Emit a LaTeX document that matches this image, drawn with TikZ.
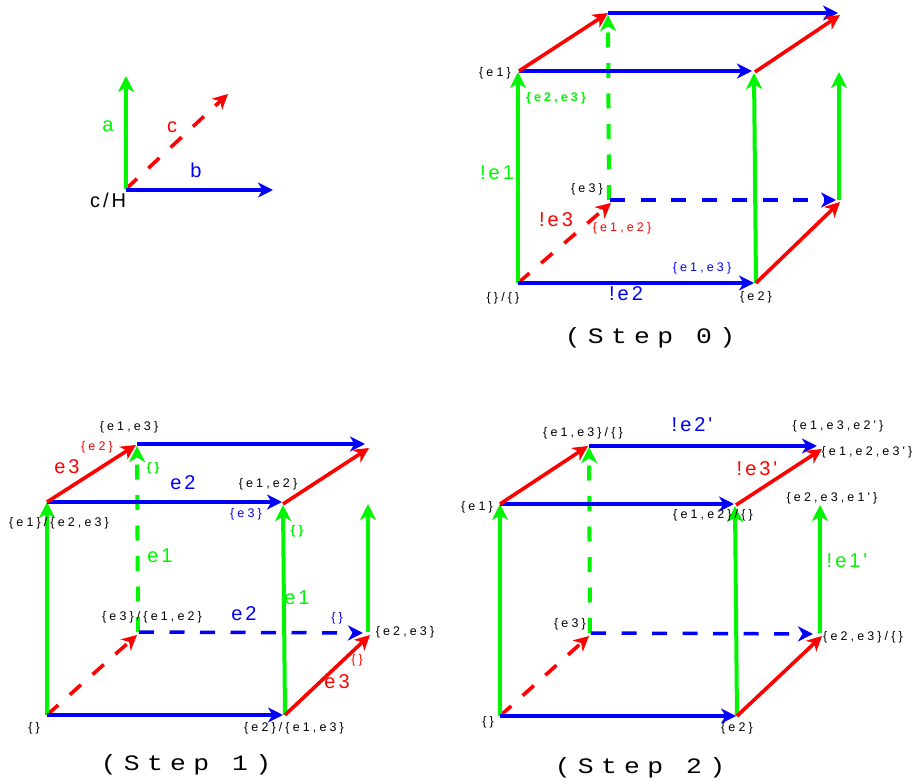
\documentclass[tikz,border=0pt]{standalone}
\usepackage{fontspec}
\usetikzlibrary{arrows.meta}
\newfontfamily\lblfont[LetterSpace=25]{Liberation Sans}
\newfontfamily\bigfont[LetterSpace=15]{Liberation Sans}
\newfontfamily\capfont[FakeStretch=1.2,LetterSpace=33]{Liberation Mono}
\definecolor{gr}{RGB}{0,245,0}
\definecolor{bl}{RGB}{0,0,250}
\definecolor{rd}{RGB}{255,0,0}
\tikzset{
  x=1pt,y=-1pt,
  tip/.style={-{Stealth[length=16pt,width=16pt,inset=4.5pt]}},
  tipsmall/.style={-{Stealth[length=15pt,width=15pt,inset=4.5pt]}},
  gedge/.style={tip,draw=gr,line width=4pt},
  bedge/.style={tipsmall,draw=bl,line width=3.5pt},
  redge/.style={tipsmall,draw=rd,line width=3.6pt},
  dash15/.style={dash pattern=on 15pt off 15.5pt},
  lab/.style={inner sep=0pt,outer sep=0pt,font=\lblfont\fontsize{12.5}{14}\selectfont},
  labbold/.style={inner sep=0pt,outer sep=0pt,font=\lblfont\bfseries\fontsize{12.5}{14}\selectfont},
  big/.style={inner sep=0pt,outer sep=0pt,font=\bigfont\fontsize{20}{24}\selectfont},
  stepcap/.style={inner sep=0pt,outer sep=0pt,font=\capfont\fontsize{22}{26}\selectfont},
}
\begin{document}
\begin{tikzpicture}
\useasboundingbox (0,0) rectangle (916,783);

% legend
\coordinate (lo) at (126,189);
\coordinate (lob) at (126,190);
\coordinate (la) at (126,76);
\coordinate (lb) at (273,190);
\coordinate (lc) at (228,94);
\draw[redge,dash15] (lo) -- (lc);
\draw[gedge] (lo) -- (la);
\draw[bedge] (lob) -- (lb);
\node[big,text=gr] (ta) at (108,126) {a};
\node[big,text=rd] (tc) at (172,127) {c};
\node[big,text=bl] (tb) at (196,170) {b};
\node[big] (tch) at (108,200) {c/H};

% step 0
\coordinate (a0) at (518,283);
\coordinate (a1) at (756,283);
\coordinate (a2) at (518,72);
\coordinate (a3) at (754,72);
\coordinate (a4) at (609,200);
\coordinate (a5) at (839,200);
\coordinate (a6) at (608,13);
\coordinate (a7) at (838,13);
\coordinate (a1b) at (754,283);
\coordinate (a2b) at (752,71);
\coordinate (a2c) at (519,71);
\coordinate (a3b) at (754,73);
\coordinate (a4b) at (611,203);
\coordinate (a4c) at (610,200);
\coordinate (a5b) at (836,200);
\coordinate (a5c) at (840,202);
\coordinate (a5d) at (839,72);
\coordinate (a6b) at (608,15);
\coordinate (a7b) at (840,15);
\coordinate (a3c) at (755,72);
\draw[gedge,dash15] (a4) -- (a6b);
\draw[bedge,dash15] (a4c) -- (a5b);
\draw[redge,dash15] (a0) -- (a4b);
\draw[gedge] (a0) -- (a2);
\draw[gedge] (a1) -- (a3b);
\draw[gedge] (a5) -- (a5d);
\draw[bedge] (a0) -- (a1b);
\draw[bedge] (a2c) -- (a2b);
\draw[bedge] (a6) -- (a7);
\draw[redge] (a1) -- (a5c);
\draw[redge] (a2c) -- (a6);
\draw[redge] (a3c) -- (a7b);
\node[lab] (s0a) at (495,73) {\{e1\}};
\node[labbold,text=gr] (s0b) at (556,98) {\{e2,e3\}};
\node[big,text=gr] (s0c) at (497,173) {!e1};
\node[lab] (s0d) at (587,189) {\{e3\}};
\node[big,text=rd] (s0e) at (556,220) {!e3};
\node[lab,text=rd] (s0f) at (622,228) {\{e1,e2\}};
\node[lab,text=bl] (s0g) at (702,268) {\{e1,e3\}};
\node[big,text=bl] (s0h) at (626,294) {!e2};
\node[lab] (s0i) at (756,297) {\{e2\}};
\node[lab] (s0j) at (503,298) {\{\}/\{\}};
\node[stepcap] (s0k) at (650,338) {(Step 0)};

% step 1
\coordinate (b0) at (47,715);
\coordinate (b1) at (285,715);
\coordinate (b2) at (47,502);
\coordinate (b3) at (283,504);
\coordinate (b4) at (138,632);
\coordinate (b5) at (368,632);
\coordinate (b6) at (137,444);
\coordinate (b7) at (365,444);
\coordinate (b1b) at (283,715);
\coordinate (b3b) at (282,502);
\coordinate (b3c) at (283,505);
\coordinate (b4b) at (137,635);
\coordinate (b4c) at (139,632);
\coordinate (b5b) at (363,633);
\coordinate (b5c) at (370,635);
\coordinate (b5d) at (368,504);
\coordinate (b6b) at (137,446);
\coordinate (b7b) at (369,448);
\coordinate (b6c) at (136,445);
\draw[gedge,dash15] (b4) -- (b6b);
\draw[bedge,dash15] (b4c) -- (b5b);
\draw[redge,dash15] (b0) -- (b4b);
\draw[gedge] (b0) -- (b2);
\draw[gedge] (b1) -- (b3c);
\draw[gedge] (b5) -- (b5d);
\draw[bedge] (b0) -- (b1b);
\draw[bedge] (b2) -- (b3b);
\draw[bedge] (b6) -- (b7);
\draw[redge] (b1) -- (b5c);
\draw[redge] (b2) -- (b6c);
\draw[redge] (b3) -- (b7b);
\node[lab] (s1a) at (129,427) {\{e1,e3\}};
\node[lab,text=rd] (s1b) at (97,447) {\{e2\}};
\node[big,text=rd] (s1c) at (67,467) {e3};
\node[labbold,text=gr] (s1d) at (153,468) {\{\}};
\node[big,text=bl] (s1e) at (183,483) {e2};
\node[lab] (s1f) at (268,484) {\{e1,e2\}};
\node[lab,text=bl] (s1g) at (246,514) {\{e3\}};
\node[lab] (s1h) at (59,523) {\{e1\}/\{e2,e3\}};
\node[labbold,text=gr] (s1i) at (297,531) {\{\}};
\node[big,text=gr] (s1j) at (160,556) {e1};
\node[big,text=gr] (s1k) at (297,598) {e1};
\node[lab] (s1l) at (152,617) {\{e3\}/\{e1,e2\}};
\node[big,text=bl] (s1m) at (244,614) {e2};
\node[lab,text=bl] (s1n) at (337,618) {\{\}};
\node[lab] (s1o) at (405,632) {\{e2,e3\}};
\node[lab,text=rd] (s1p) at (357,660) {\{\}};
\node[big,text=rd] (s1q) at (337,682) {e3};
\node[lab] (s1r) at (34,728) {\{\}};
\node[lab] (s1s) at (294,728) {\{e2\}/\{e1,e3\}};
\node[stepcap] (s1t) at (186,765) {(Step 1)};

% step 2
\coordinate (c0) at (500,716);
\coordinate (c1) at (737,716);
\coordinate (c2) at (500,504);
\coordinate (c3) at (736,505);
\coordinate (c4) at (590,633);
\coordinate (c5) at (820,633);
\coordinate (c6) at (589,446);
\coordinate (c7) at (817,446);
\coordinate (c1b) at (736,716);
\coordinate (c3b) at (734,504);
\coordinate (c3c) at (735,506);
\coordinate (c4b) at (589,636);
\coordinate (c4c) at (591,633);
\coordinate (c5b) at (813,634);
\coordinate (c5c) at (822,636);
\coordinate (c5d) at (820,505);
\coordinate (c6b) at (589,447);
\coordinate (c6c) at (588,446);
\coordinate (c7b) at (822,449);
\draw[gedge,dash15] (c4) -- (c6b);
\draw[bedge,dash15] (c4c) -- (c5b);
\draw[redge,dash15] (c0) -- (c4b);
\draw[gedge] (c0) -- (c2);
\draw[gedge] (c1) -- (c3c);
\draw[gedge] (c5) -- (c5d);
\draw[bedge] (c0) -- (c1b);
\draw[bedge] (c2) -- (c3b);
\draw[bedge] (c6) -- (c7);
\draw[redge] (c1) -- (c5c);
\draw[redge] (c2) -- (c6c);
\draw[redge] (c3) -- (c7b);
\node[lab] (s2a) at (583,433) {\{e1,e3\}/\{\}};
\node[big,text=bl] (s2b) at (692,425) {!e2'};
\node[lab] (s2c) at (838,426) {\{e1,e3,e2'\}};
\node[lab] (s2d) at (867,452) {\{e1,e2,e3'\}};
\node[big,text=rd] (s2e) at (757,469) {!e3'};
\node[lab] (s2f) at (832,498) {\{e2,e3,e1'\}};
\node[lab] (s2g) at (477,507) {\{e1\}};
\node[lab] (s2h) at (713,515) {\{e1,e2\}/\{\}};
\node[big,text=gr] (s2i) at (847,561) {!e1'};
\node[lab] (s2j) at (570,624) {\{e3\}};
\node[lab] (s2k) at (863,637) {\{e2,e3\}/\{\}};
\node[lab] (s2l) at (488,722) {\{\}};
\node[lab] (s2m) at (737,728) {\{e2\}};
\node[stepcap] (s2n) at (640,768) {(Step 2)};
\end{tikzpicture}
\end{document}
